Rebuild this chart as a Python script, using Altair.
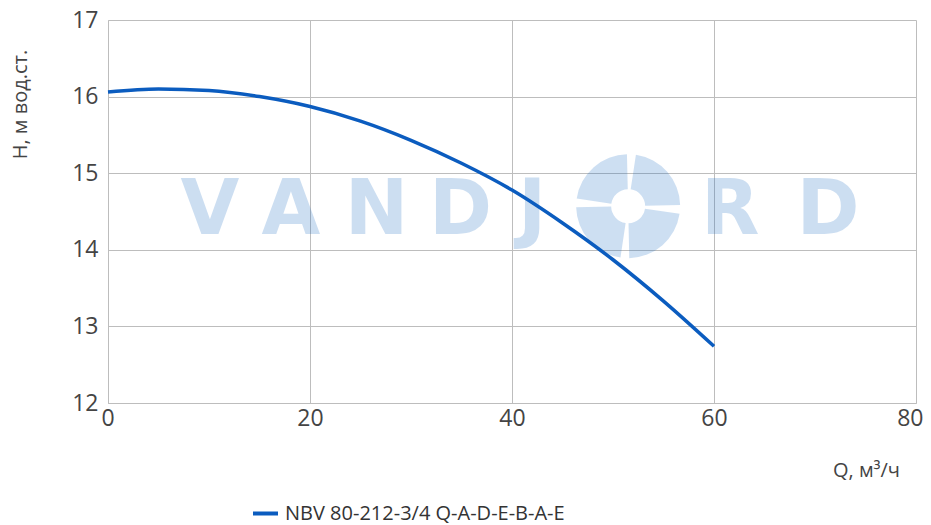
import altair as alt
import pandas as pd

# Pump curve data
flow = [0, 5, 10, 15, 20, 25, 30, 35, 40, 45, 50, 55, 60]
head = [16.06, 16.10, 16.08, 16.00, 15.87, 15.68, 15.43, 15.13, 14.78, 14.35, 13.87, 13.33, 12.74]
series_name = "NBV 80-212-3/4 Q-A-D-E-B-A-E"

x_ticks = [0, 20, 40, 60, 80]
y_ticks = [12, 13, 14, 15, 16, 17]

# Watermark letters
wm_letters = ["V", "A", "N", "D", "J", "R", "D"]
wm_centers = [10.1, 18.1, 26.6, 34.9, 42.0, 61.6, 71.3]
wm_base = 14.2
swirl_center = (51.5, 14.57)
blade_starts = [0.15, 1.72, 3.29, 4.86]

curve = pd.DataFrame({"Q": flow, "H": head, "series": series_name})
wm = pd.DataFrame({"Q": wm_centers, "H": [wm_base] * len(wm_letters), "ch": wm_letters})
blades = pd.DataFrame({
    "Q": [swirl_center[0]] * 4,
    "H": [swirl_center[1]] * 4,
    "t0": blade_starts,
    "t1": [b + 1.4 for b in blade_starts],
})

xs = alt.Scale(domain=[0, 80], nice=False, zero=False)
ys = alt.Scale(domain=[12, 17], nice=False, zero=False)

x_enc = alt.X("Q:Q", scale=xs, title="Q, м³/ч",
              axis=alt.Axis(values=x_ticks, titleX=758, titleY=67,
                            labelFlush=True, labelFlushOffset=7,
                            titleAlign="center", titleBaseline="middle"))
y_enc = alt.Y("H:Q", scale=ys, title="H, м вод.ст.",
              axis=alt.Axis(values=y_ticks, titleX=-88, titleY=84, titleAngle=-90,
                            labelFlush=False, labelPadding=10,
                            titleAlign="center", titleBaseline="middle"))

watermark = alt.Chart(wm).mark_text(
    font="DejaVu Sans", fontWeight="bold", fontSize=76, baseline="alphabetic",
    align="center", color="#1a6cc4", opacity=0.22
).encode(x=x_enc, y=y_enc, text="ch:N")

swirl = alt.Chart(blades).mark_arc(
    innerRadius=17, outerRadius=52, color="#1a6cc4", opacity=0.22
).encode(
    x=x_enc, y=y_enc,
    theta=alt.Theta("t0:Q", scale=None, stack=None),
    theta2="t1:Q",
)

line = alt.Chart(curve).mark_line(strokeWidth=3.5, interpolate="monotone").encode(
    x=x_enc,
    y=y_enc,
    color=alt.Color("series:N", scale=alt.Scale(range=["#0b5cbf"]),
                    legend=alt.Legend(title=None, orient="none", legendX=143, legendY=479,
                                      symbolType="stroke", symbolSize=625,
                                      symbolStrokeWidth=4, symbolOpacity=1,
                                      labelFontSize=20, labelLimit=0, labelOffset=5,
                                      labelFont="Open Sans", labelColor="#333333")),
)

chart = alt.layer(watermark, swirl, line).properties(
    width=808, height=383,
    autosize=alt.AutoSizeParams(type="none"),
    padding={"left": 100, "top": 12, "right": 7, "bottom": 120},
).configure_view(stroke=None).configure_axis(
    gridColor="#bdbdbd", domainColor="#bdbdbd", ticks=False,
    labelFont="Open Sans", labelFontSize=23, labelColor="#444444",
    titleFont="Open Sans", titleFontSize=20, titleFontWeight="normal", titleColor="#444444",
    labelPadding=8,
).configure_axisX(labelPadding=4)

chart.save("out.html", embed_options={"renderer": "svg", "actions": False})
